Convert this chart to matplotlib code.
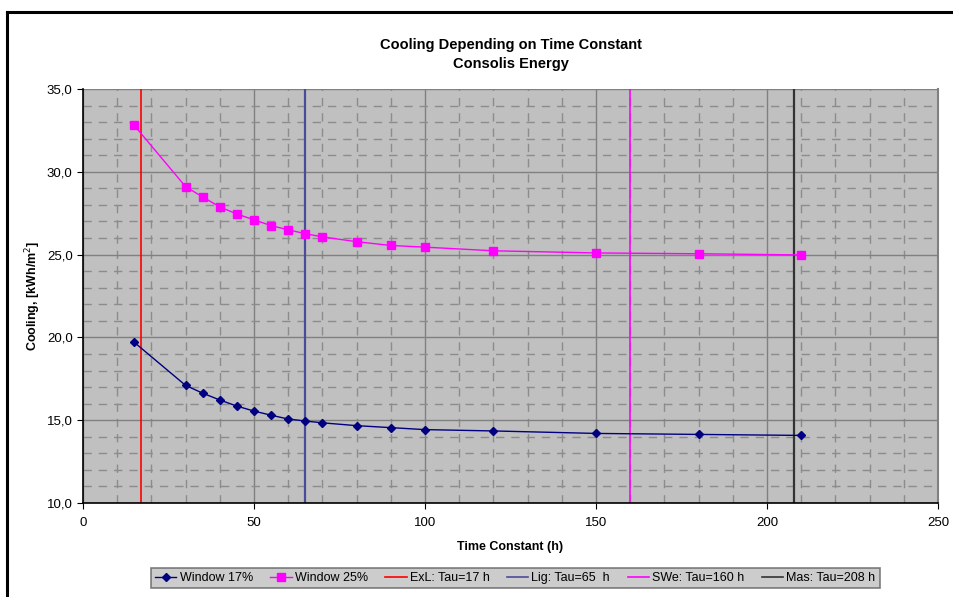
import matplotlib.pyplot as plt
from matplotlib.ticker import MultipleLocator, FuncFormatter
from matplotlib.lines import Line2D

plt.rcParams['font.family'] = ['Liberation Sans', 'DejaVu Sans']

tau = [15, 30, 35, 40, 45, 50, 55, 60, 65, 70, 80, 90, 100, 120, 150, 180, 210]
window_17 = [19.7, 17.1, 16.63, 16.22, 15.85, 15.55, 15.3, 15.07, 14.95, 14.84, 14.67, 14.55, 14.43, 14.35, 14.2, 14.14, 14.08]
window_25 = [32.8, 29.1, 28.48, 27.88, 27.45, 27.1, 26.75, 26.5, 26.26, 26.07, 25.78, 25.55, 25.45, 25.23, 25.1, 25.05, 24.98]

markers_tau = [17, 65, 160, 208]
markers_labels = ['ExL: Tau=17 h', 'Lig: Tau=65  h', 'SWe: Tau=160 h', 'Mas: Tau=208 h']
markers_colors = ['#FF0000', '#4B4B9B', '#FF00FF', '#333333']


def plot_data():
    fig = plt.figure(figsize=(9.54, 5.97), dpi=100)
    ax = fig.add_axes([0.087, 0.1575, 0.8962, 0.6934])
    ax.set_facecolor('#C0C0C0')

    ax.set_xlim(0, 250)
    ax.set_ylim(10, 35)
    ax.xaxis.set_major_locator(MultipleLocator(50))
    ax.xaxis.set_minor_locator(MultipleLocator(10))
    ax.yaxis.set_major_locator(MultipleLocator(5))
    ax.yaxis.set_minor_locator(MultipleLocator(1))
    ax.yaxis.set_major_formatter(FuncFormatter(lambda v, p: f'{v:.1f}'.replace('.', ',')))

    ax.grid(which='major', color='#808080', linewidth=1, linestyle='-')
    ax.grid(which='minor', color='#8c8c8c', linewidth=1, linestyle=(0, (6, 5)))
    ax.set_axisbelow(True)

    ax.tick_params(which='major', direction='out', length=4, labelsize=9.5, colors='black')
    ax.tick_params(axis='x', which='major', pad=6)
    ax.tick_params(which='minor', length=0)
    ax.spines['top'].set_visible(False)
    ax.spines['right'].set_color('#808080')
    ax.spines['right'].set_linewidth(1.5)
    ax.spines['left'].set_color('black')
    ax.spines['bottom'].set_color('black')
    ax.spines['left'].set_linewidth(1.2)
    ax.spines['bottom'].set_linewidth(1.2)

    for t, c, lw in zip(markers_tau, markers_colors, [1.2, 1.6, 1.2, 1.6]):
        ax.axvline(t, color=c, linewidth=lw, zorder=2)

    ax.plot(tau, window_17, color='#000080', marker='D', markersize=4.5, linewidth=1, zorder=3)
    ax.plot(tau, window_25, color='#FF00FF', marker='s', markersize=6, linewidth=1, zorder=3)

    ax.set_xlabel('Time Constant (h)', fontsize=9, fontweight='bold', labelpad=9)
    ax.set_ylabel('Cooling, [kWh/m$^2$]', fontsize=9, fontweight='bold', labelpad=3)
    ax.set_title('Cooling Depending on Time Constant\nConsolis Energy', fontsize=10.5, fontweight='bold', pad=15, linespacing=1.5)

    handles = [
        Line2D([], [], color='#000080', marker='D', markersize=4, linewidth=1),
        Line2D([], [], color='#FF00FF', marker='s', markersize=5.5, linewidth=1),
    ] + [Line2D([], [], color=c, linewidth=1.2) for c in markers_colors]
    labels = ['Window 17%', 'Window 25%'] + markers_labels
    leg = fig.legend(handles, labels, loc='center', bbox_to_anchor=(0.54, 0.032), ncol=6,
                     fontsize=9, frameon=True, fancybox=False, handlelength=1.7,
                     handletextpad=0.25, columnspacing=1.4, borderpad=0.35)
    leg.get_frame().set_facecolor('#C0C0C0')
    leg.get_frame().set_edgecolor('#606060')
    leg.get_frame().set_linewidth(1.2)

    # chart frame
    fig.add_artist(Line2D([0.0077, 0.0077], [0, 0.98], transform=fig.transFigure, color='black', linewidth=2.2))
    fig.add_artist(Line2D([0.0077, 1.0], [0.98, 0.98], transform=fig.transFigure, color='black', linewidth=2.2))

    fig.savefig('out.png', dpi=100)


plot_data()
